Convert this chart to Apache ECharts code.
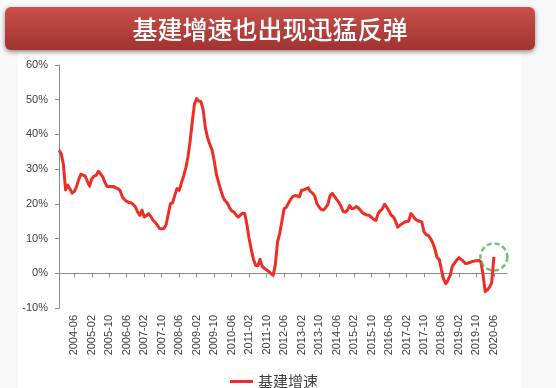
<!DOCTYPE html>
<html>
<head>
<meta charset="utf-8">
<script src="https://cdn.jsdelivr.net/npm/echarts@6/dist/echarts.min.js"></script>
<style>
html,body{margin:0;padding:0;background:#f8f8f8;}
#main{width:556px;height:388px;}
</style>
</head>
<body>
<div id="main"></div>
<script>
// ---- data ----
const seriesName = '基建增速';
const titleText = '基建增速也出现迅猛反弹';
const startYear = 2003, startMonth = 11, endYear = 2020, endMonth = 12;
const tickLabels = ['2004-06','2005-02','2005-10','2006-06','2007-02','2007-10','2008-06','2009-02','2009-10','2010-06','2011-02','2011-10','2012-06','2013-02','2013-10','2014-06','2015-02','2015-10','2016-06','2017-02','2017-10','2018-06','2019-02','2019-10','2020-06'];
const yTicks = [-10, 0, 10, 20, 30, 40, 50, 60];

const v2003 = [35.4, 34.5];
const v2004 = [31.4, 24.0, 25.4, 24.3, 23.1, 23.6, 24.9, 27.0, 28.5, 28.3, 28.0, 26.5];
const v2005 = [25.1, 27.2, 28.0, 28.2, 29.4, 28.7, 27.8, 26.2, 25.0, 25.0, 24.9, 25.0];
const v2006 = [24.6, 24.4, 23.8, 22.0, 21.2, 20.7, 20.4, 20.3, 19.8, 19.1, 17.6, 16.7];
const v2007 = [18.2, 16.2, 16.6, 17.2, 16.4, 15.3, 14.7, 13.8, 12.9, 12.8, 12.9, 14.0];
const v2008 = [17.0, 20.1, 20.3, 22.5, 24.4, 23.9, 26.0, 28.0, 30.3, 33.5, 38.0, 43.8];
const v2009 = [48.8, 50.3, 49.6, 49.4, 47.0, 41.8, 39.0, 37.2, 35.6, 32.5, 28.6, 26.2];
const v2010 = [24.0, 22.0, 20.9, 20.3, 18.9, 18.0, 17.7, 16.8, 16.2, 16.8, 17.3, 17.2];
const v2011 = [14.0, 10.0, 6.8, 4.0, 2.3, 2.2, 4.0, 2.0, 1.4, 1.0, 0.5, -0.1];
const v2012 = [-0.6, 2.5, 9.0, 11.5, 15.0, 18.6, 19.0, 20.2, 21.3, 22.1, 22.4, 22.3];
const v2013 = [22.0, 23.9, 24.0, 24.3, 24.6, 23.6, 23.1, 22.3, 20.1, 19.1, 18.4, 18.2];
const v2014 = [18.9, 19.8, 22.3, 23.0, 22.2, 21.3, 20.5, 19.4, 17.8, 17.6, 18.2, 19.5];
const v2015 = [18.6, 18.7, 19.2, 18.8, 18.1, 17.4, 17.0, 16.8, 16.7, 16.1, 15.5, 15.2];
const v2016 = [17.2, 18.0, 18.6, 19.9, 19.0, 18.0, 16.7, 16.3, 15.0, 13.3, 13.8, 14.3];
const v2017 = [14.7, 14.9, 15.0, 17.2, 16.5, 15.6, 15.2, 15.0, 14.8, 12.0, 11.1, 10.9];
const v2018 = [10.0, 8.8, 7.0, 4.5, 4.0, 1.0, -1.7, -3.0, -1.9, -0.6, 2.1, 2.9];
const v2019 = [3.8, 4.5, 4.0, 3.5, 2.8, 2.9, 3.1, 3.4, 3.5, 3.6, 3.7, 3.4];
const v2020 = [-0.2, -5.3, -4.8, -4.0, -2.7, 4.7];

// ---- build ----
const categories = [];
for (let y = startYear, m = startMonth; y < endYear || (y === endYear && m <= endMonth); ) {
  categories.push(y + '-' + (m < 10 ? '0' + m : '' + m));
  m++; if (m > 12) { m = 1; y++; }
}
const values = [].concat(v2003, v2004, v2005, v2006, v2007, v2008, v2009, v2010, v2011,
  v2012, v2013, v2014, v2015, v2016, v2017, v2018, v2019, v2020);
const lastIdx = values.length - 1;
const showTick = (idx, val) => tickLabels.indexOf(categories[idx]) >= 0;

const chart = echarts.init(document.getElementById('main'), null, {renderer: 'canvas'});
const axisColor = '#8c8c8c';
const labelColor = '#404040';
const option = {
  backgroundColor: '#f8f8f8',
  animation: false,
  graphic: [
    {type: 'rect', z: -10, shape: {x: 18, y: 52, width: 503, height: 336}, style: {fill: '#ffffff'}},
    {type: 'rect', z: 10,
     shape: {x: 5, y: 7, width: 530, height: 43, r: 6},
     style: {
       fill: new echarts.graphic.LinearGradient(0, 0, 0, 1, [
         {offset: 0, color: '#c8504b'}, {offset: 1, color: '#a13330'}]),
       shadowBlur: 5, shadowOffsetY: 2, shadowColor: 'rgba(0,0,0,0.45)'
     }},
    {type: 'text', z: 11, x: 270, y: 29,
     style: {text: titleText, fill: '#ffffff', font: '500 25px "Noto Sans CJK SC"',
       align: 'center', verticalAlign: 'middle'}}
  ],
  grid: {left: 59, right: 49, top: 65, bottom: 80, containLabel: false},
  legend: {
    data: [seriesName], left: 225, top: 369,
    icon: 'rect', itemWidth: 23, itemHeight: 3,
    textStyle: {fontSize: 15, color: '#404040', fontFamily: 'Noto Sans CJK SC'}
  },
  xAxis: [
    {type: 'category', data: categories, boundaryGap: false,
     axisLine: {onZero: true, lineStyle: {color: axisColor, width: 1}},
     axisTick: {show: true, interval: showTick, length: 4, lineStyle: {color: axisColor}},
     axisLabel: {show: false}, splitLine: {show: false}},
    {type: 'category', data: categories, boundaryGap: false, position: 'bottom',
     axisLine: {show: false, onZero: false}, axisTick: {show: false},
     axisLabel: {show: true, interval: showTick, rotate: 90, margin: 7,
       fontSize: 11, color: labelColor, fontFamily: 'Liberation Sans'},
     splitLine: {show: false}}
  ],
  yAxis: {
    type: 'value', min: yTicks[0], max: yTicks[yTicks.length - 1], interval: 10,
    axisLine: {show: true, lineStyle: {color: axisColor}},
    axisTick: {show: true, length: 4, lineStyle: {color: axisColor}},
    axisLabel: {formatter: '{value}%', fontSize: 11, color: labelColor, margin: 11, fontFamily: 'Liberation Sans'},
    splitLine: {show: false}
  },
  series: [
    {name: seriesName, type: 'line', xAxisIndex: 0, data: values, showSymbol: false,
     lineStyle: {color: '#ee2e24', width: 3, join: 'round'}, itemStyle: {color: '#ee2e24'}, silent: true},
    {name: 'highlight', type: 'scatter', xAxisIndex: 0,
     data: [[categories[lastIdx], values[lastIdx]]],
     symbol: 'circle', symbolSize: 27, silent: true, z: 5,
     itemStyle: {color: 'rgba(0,0,0,0)', borderColor: '#4cb050', borderWidth: 2.5, borderType: [5, 3]}}
  ]
};
chart.setOption(option);
</script>
</body>
</html>
